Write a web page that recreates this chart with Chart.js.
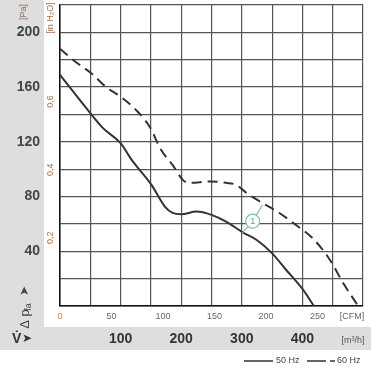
<!DOCTYPE html>
<html>
<head>
<meta charset="utf-8">
<script src="https://cdn.jsdelivr.net/npm/chart.js@4/dist/chart.umd.min.js"></script>
<style>
  body { margin: 0; background: #fff; }
</style>
</head>
<body>
<canvas id="fanChart" width="371" height="377"></canvas>
<script>
// 50 Hz curve (solid), flow in m3/h, pressure in Pa
const flow50 = [0, 50, 71, 100, 118, 151, 173, 186, 200, 225, 250, 274, 302, 324, 349, 373, 401, 419];
const press50 = [169, 141, 130, 119, 107, 88.5, 72.7, 68, 67, 69, 66.6, 61.7, 53.7, 48.4, 39, 26.5, 11.9, 0];
// 60 Hz curve (dashed)
const flow60 = [0, 27, 52, 76, 100, 126, 148, 167, 186, 203, 214, 247, 274, 291, 308, 335, 362, 390, 417, 445, 467, 492];
const press60 = [188, 178, 170, 160, 153, 143, 131, 114, 103, 92, 90, 91, 90, 88.5, 82.5, 75, 68, 59, 49.5, 34, 17, 0];

// tick labels
const paTicks = [40, 80, 120, 160, 200];
const m3hTicks = [100, 200, 300, 400];
const cfmTicks = [0, 50, 100, 150, 200, 250];
const inh2oTicks = [0.2, 0.4, 0.6];
const seriesNames = ["50 Hz", "60 Hz"];

function points(xs, ys) {
  return xs.map((x, i) => ({ x: x, y: ys[i] }));
}

const NARROW = '"Liberation Sans Narrow", "Liberation Sans", Arial, sans-serif';

const extras = {
  id: "extras",
  beforeDraw(chart) {
    const c = chart.ctx;
    c.save();
    c.fillStyle = "#fff";
    c.fillRect(0, 0, chart.width, chart.height);
    c.fillStyle = "#dedede";
    c.fillRect(0, 0, 44, 350);
    c.fillRect(0, 327, 371, 23);
    c.restore();
  },
  afterDatasetsDraw(chart) {
    const c = chart.ctx;
    const xs = chart.scales.x, ys = chart.scales.y;
    // annotation "1"
    const cx = xs.getPixelForValue(318), cy = ys.getPixelForValue(62);
    c.save();
    c.strokeStyle = "#7cc49a";
    c.lineWidth = 1.2;
    c.beginPath();
    c.moveTo(xs.getPixelForValue(301), ys.getPixelForValue(53.5));
    c.lineTo(cx, cy);
    c.lineTo(xs.getPixelForValue(334), ys.getPixelForValue(74));
    c.stroke();
    c.beginPath();
    c.arc(cx, cy, 7, 0, Math.PI * 2);
    c.fillStyle = "#fff";
    c.fill();
    c.stroke();
    c.fillStyle = "#4a9fc8";
    c.font = "9px " + NARROW;
    c.textAlign = "center";
    c.textBaseline = "middle";
    c.fillText("1", cx, cy + 0.5);
    c.restore();
  },
  afterDraw(chart) {
    const c = chart.ctx;
    const xs = chart.scales.x, ys = chart.scales.y;
    c.save();
    // Pa labels
    c.fillStyle = "#444";
    c.font = "bold 14px " + NARROW;
    c.textAlign = "right";
    c.textBaseline = "middle";
    paTicks.forEach(v => c.fillText(String(v), 40, ys.getPixelForValue(v)));
    // m3/h labels
    c.fillStyle = "#333";
    c.textAlign = "center";
    m3hTicks.forEach(v => c.fillText(String(v), xs.getPixelForValue(v), 339));
    c.font = "9px " + NARROW;
    c.fillStyle = "#555";
    c.fillText("[m\u00b3/h]", 353, 341);
    // CFM labels
    c.font = "9px " + NARROW;
    cfmTicks.forEach(v => {
      c.fillStyle = v === 0 ? "#d9822b" : "#666";
      c.fillText(String(v), xs.getPixelForValue(v * 1.699), 317);
    });
    c.fillStyle = "#666";
    c.fillText("[CFM]", 352, 317);
    // in H2O labels, rotated
    c.fillStyle = "#b0703a";
    inh2oTicks.forEach(v => {
      c.save();
      c.translate(51, ys.getPixelForValue(v * 249.09));
      c.rotate(-Math.PI / 2);
      c.fillText(String(v).replace(".", ","), 0, 0);
      c.restore();
    });
    c.save();
    c.translate(51, 18);
    c.rotate(-Math.PI / 2);
    c.fillStyle = "#a07050";
    c.fillText("[in H\u2082O]", 0, 0);
    c.restore();
    c.save();
    c.translate(24, 12);
    c.rotate(-Math.PI / 2);
    c.fillStyle = "#8a7060";
    c.fillText("[Pa]", 0, 0);
    c.restore();
    // axis names
    c.save();
    c.translate(25, 313);
    c.rotate(-Math.PI / 2);
    c.fillStyle = "#444";
    c.font = "13px " + NARROW;
    c.textAlign = "center";
    c.fillText("\u0394 p", -6, 0);
    c.font = "9px " + NARROW;
    c.fillText("fa", 6, 4);
    c.font = "12px DejaVu Sans";
    c.fillText("\u25B2".replace("\u25B2", "\u27A4"), 22, 0);
    c.restore();
    c.fillStyle = "#333";
    c.font = "bold 14px " + NARROW;
    c.textAlign = "left";
    c.fillText("V\u0307", 12, 339);
    c.font = "12px DejaVu Sans";
    c.fillText("\u27A4", 22, 339);
    // legend
    c.strokeStyle = "#333";
    c.lineWidth = 1.5;
    c.beginPath();
    c.moveTo(244, 361); c.lineTo(273, 361);
    c.moveTo(307, 361); c.lineTo(326, 361);
    c.moveTo(330, 361); c.lineTo(335, 361);
    c.stroke();
    c.fillStyle = "#444";
    c.font = "9px " + NARROW;
    c.textAlign = "left";
    c.fillText(seriesNames[0], 276, 361);
    c.fillText(seriesNames[1], 337, 361);
    c.restore();
  }
};

new Chart("fanChart", {
  type: "line",
  data: {
    datasets: [
      {
        label: seriesNames[0],
        data: points(flow50, press50),
        borderColor: "#333",
        borderWidth: 2,
        pointRadius: 0,
        cubicInterpolationMode: "monotone",
        fill: false,
      },
      {
        label: seriesNames[1],
        data: points(flow60, press60),
        borderColor: "#333",
        borderWidth: 2,
        borderDash: [10, 6],
        pointRadius: 0,
        cubicInterpolationMode: "monotone",
        fill: false,
      },
    ],
  },
  options: {
    responsive: false,
    animation: false,
    layout: { padding: { left: 60, top: 5, right: 8, bottom: 71 } },
    plugins: { legend: { display: false }, tooltip: { enabled: false } },
    scales: {
      x: {
        type: "linear",
        min: 0,
        max: 500,
        ticks: { display: false, stepSize: 50 },
        grid: { color: "#555", lineWidth: 1.2, drawTicks: false },
        border: { color: "#111", width: 1.5 },
      },
      y: {
        type: "linear",
        min: 0,
        max: 220,
        ticks: { display: false, stepSize: 20 },
        grid: { color: "#555", lineWidth: 1.2, drawTicks: false },
        border: { color: "#111", width: 1.5 },
      },
    },
  },
  plugins: [extras],
});
</script>
</body>
</html>
